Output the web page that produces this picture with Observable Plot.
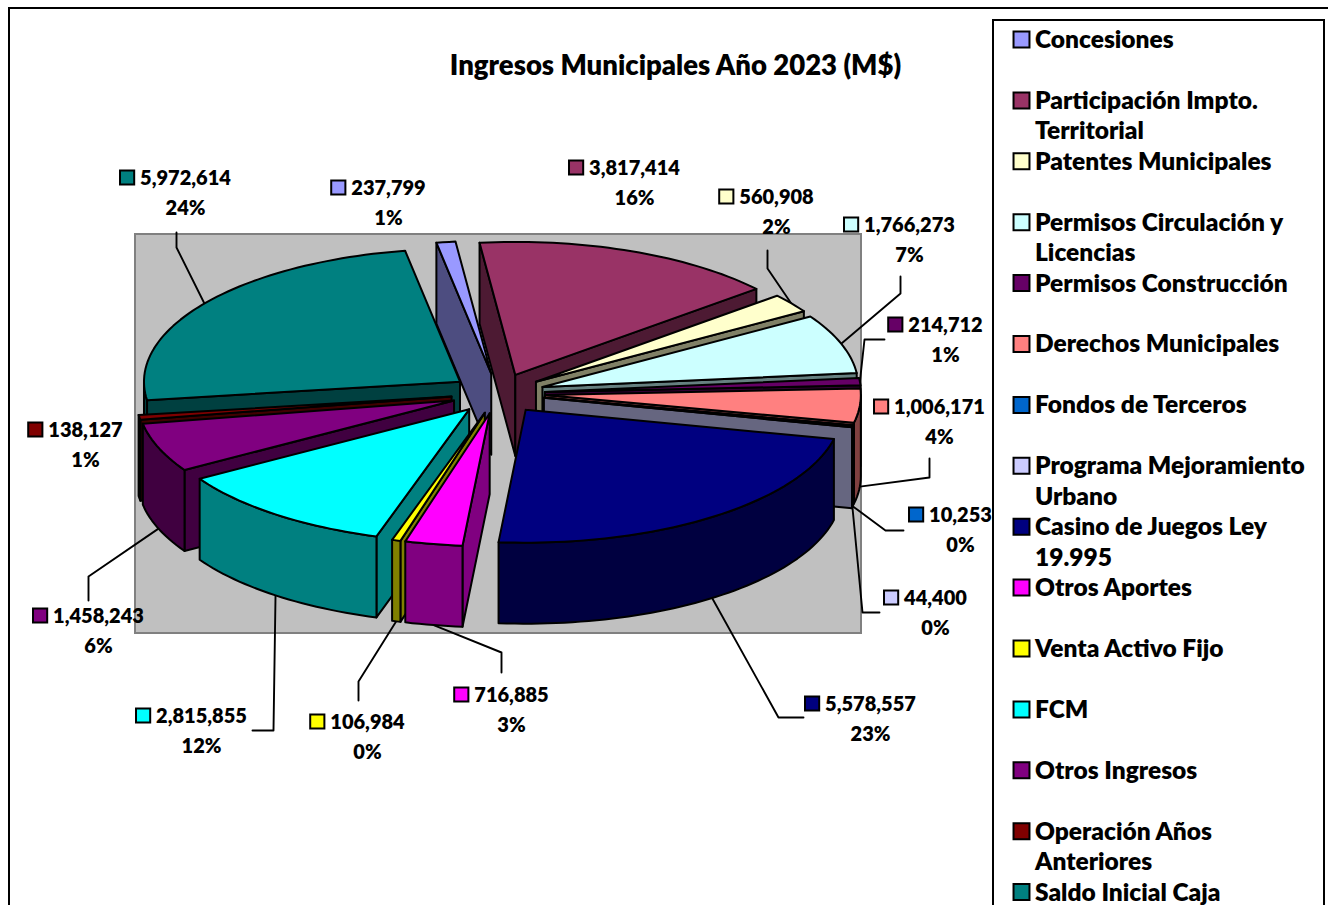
<!DOCTYPE html>
<html><head><meta charset="utf-8">
<style>html,body{margin:0;padding:0;background:#fff;overflow:hidden}</style>
<script src="https://cdn.jsdelivr.net/npm/d3@7"></script>
<script src="https://cdn.jsdelivr.net/npm/@observablehq/plot@0.6"></script>
</head><body><div id="chart"></div>
<script>
const title = "Ingresos Municipales Año 2023 (M$)";
const categories = ["Concesiones","Participación Impto. Territorial","Patentes Municipales","Permisos Circulación y Licencias","Permisos Construcción","Derechos Municipales","Fondos de Terceros","Programa Mejoramiento Urbano","Casino de Juegos Ley 19.995","Otros Aportes","Venta Activo Fijo","FCM","Otros Ingresos","Operación Años Anteriores","Saldo Inicial Caja"];
const values = [237799,3817414,560908,1766273,214712,1006171,10253,44400,5578557,716885,106984,2815855,1458243,138127,5972614];
const legendLines = [["Concesiones"],["Participación Impto.","Territorial"],["Patentes Municipales"],["Permisos Circulación y","Licencias"],["Permisos Construcción"],["Derechos Municipales"],["Fondos de Terceros"],["Programa Mejoramiento","Urbano"],["Casino de Juegos Ley","19.995"],["Otros Aportes"],["Venta Activo Fijo"],["FCM"],["Otros Ingresos"],["Operación Años","Anteriores"],["Saldo Inicial Caja"]];
const colors = ["#9999FF","#993366","#FFFFCC","#CCFFFF","#660066","#FF8080","#0066CC","#CCCCFF","#000080","#FF00FF","#FFFF00","#00FFFF","#800080","#800000","#008080"];

// Layout of the pseudo-3D pie (pixels)
const pie = {cx:497.5, cy:393, rx:316, ry:133, depth:81, explodeX:47, explodeY:20, startDeg:-10};
// Data-label placement: centre of number, centre line of number
const labelCx = [388,634,776,909,945,939,960,935,870,511,367,201,98,85,185];
const labelY  = [188,168,197,225,325,407,515,598,704,695,722,716,616,430,178];
// Leader-line elbows, from the slice's rim outward
const elbows = [null,null,[[767,268],[767,250]],[[900,293],[900,276]],[[864,339],[884,339]],[[929,477],[929,458]],[[885,530],[903,530]],[[862,612],[879,612]],[[778,717],[803,717]],[[501,652],[501,672]],[[358,681],[358,700]],[[273,730],[252,730]],[[88,576],[88,600]],null,[[176,247],[176,232]]];

const rad = d => d * Math.PI / 180;
const halve = c => { const r = d3.rgb(c); return d3.rgb(r.r/2, r.g/2, r.b/2).formatHex(); };
const total = d3.sum(values);
const cum = d3.cumsum(values);
const slices = values.map((v,i) => {
  const a0 = pie.startDeg + 360*(cum[i]-v)/total, a1 = pie.startDeg + 360*cum[i]/total, mid = (a0+a1)/2;
  const ax = pie.cx + pie.explodeX*Math.sin(rad(mid)), ay = pie.cy - pie.explodeY*Math.cos(rad(mid));
  const rim = a => [ax + pie.rx*Math.sin(rad(a)), ay - pie.ry*Math.cos(rad(a))];
  return {i, v, a0, a1, mid, ax, ay, rim, color:colors[i], side:halve(colors[i])};
});
const arc = (a,b,rim) => { const n = Math.max(1,Math.ceil(Math.abs(b-a)/1.5)); return d3.range(n+1).map(k => rim(a+(b-a)*k/n)); };

const polys = [];
const add = (pts,fill) => { const id = polys.length ? polys[polys.length-1].id+1 : 0; [...pts,pts[0]].forEach(p => polys.push({id,x:p[0],y:p[1],fill})); };
const down = p => [p[0],p[1]+pie.depth];
[...slices].sort((p,q)=>Math.cos(rad(q.mid))-Math.cos(rad(p.mid))).forEach(s => {
  const apex = [s.ax,s.ay];
  if (Math.cos(rad(s.a0-90)) < 0) { const r=s.rim(s.a0); add([apex,r,down(r),down(apex)],s.side); }
  if (Math.cos(rad(s.a1+90)) < 0) { const r=s.rim(s.a1); add([apex,r,down(r),down(apex)],s.side); }
  const b0=Math.max(s.a0,90), b1=Math.min(s.a1,270);
  if (b1>b0) { const top=arc(b0,b1,s.rim); add([...top,...top.map(down).reverse()],s.side); }
  add([apex,...arc(s.a0,s.a1,s.rim)],s.color);
});

const leaders = [];
slices.forEach(s => {
  if (!elbows[s.i]) return;
  const r = s.rim(s.mid), start = Math.cos(rad(s.mid))<0 ? down(r) : r;
  [start,...elbows[s.i]].forEach(p => leaders.push({id:s.i,x:p[0],y:p[1]}));
});

const font = "Lato, Carlito, sans-serif";
const weight = 800;
const labelSize = 20, legendSize = 24.5, titleSize = 27.5;
const ctx = document.createElement("canvas").getContext("2d");
ctx.font = `${weight} ${labelSize}px Lato`;
const fmt = d3.format(",");
const labels = slices.map(s => {
  const txt = fmt(s.v), w = ctx.measureText(txt).width;
  return {txt, pct:Math.round(s.v/total*100)+"%", x:labelCx[s.i], y:labelY[s.i], mx:labelCx[s.i]-w/2-13, color:s.color};
});
const rowY = r => 39.6 + 30.45*r;
const legendText = legendLines.flatMap((ls,i)=>ls.map((t,k)=>({t,y:rowY(2*i+k)})));
const legendKeys = colors.map((c,i)=>({c,y:rowY(2*i)}));

const box = (x1,y1,x2,y2,o) => Plot.rect([{x1,y1,x2,y2}],{x1:"x1",y1:"y1",x2:"x2",y2:"y2",...o});

const chart = Plot.plot({
  width:1328, height:905, margin:0,
  x:{domain:[0,1328],range:[0,1328],axis:null},
  y:{domain:[0,905],range:[0,905],axis:null},
  color:{type:"identity"},
  style:{background:"#fff"},
  marks:[
    box(9,8,1400,1000,{fill:"#fff",stroke:"#000",strokeWidth:2}),
    box(135,234,861,633,{fill:"#C0C0C0",stroke:"#808080",strokeWidth:2}),
    Plot.line(leaders,{x:"x",y:"y",z:"id",stroke:"#000",strokeWidth:1.9}),
    Plot.line(polys,{x:"x",y:"y",z:"id",fill:"fill",stroke:"#000",strokeWidth:2,strokeLinejoin:"round",curve:"linear"}),
    box(993,20,1324,1000,{fill:"#fff",stroke:"#000",strokeWidth:2}),
    Plot.text([title],{x:()=>675,y:()=>66,text:d=>d,fontFamily:font,fontWeight:weight,fontSize:titleSize,fill:"#000"}),
    Plot.text(labels,{x:"x",y:"y",text:"txt",fontFamily:font,fontWeight:weight,fontSize:labelSize,fill:"#000"}),
    Plot.text(labels,{x:"x",y:d=>d.y+30,text:"pct",fontFamily:font,fontWeight:weight,fontSize:labelSize,fill:"#000"}),
    Plot.dot(labels,{x:"mx",y:d=>d.y-1,symbol:"square",r:8,fill:"color",stroke:"#000",strokeWidth:2}),
    Plot.dot(legendKeys,{x:()=>1021,y:d=>d.y-0.6,symbol:"square",r:9,fill:"c",stroke:"#000",strokeWidth:2}),
    Plot.text(legendText,{x:()=>1034.5,y:"y",text:"t",textAnchor:"start",fontFamily:font,fontWeight:weight,fontSize:legendSize,fill:"#000"})
  ]
});
document.getElementById("chart").appendChild(chart);
</script></body></html>
